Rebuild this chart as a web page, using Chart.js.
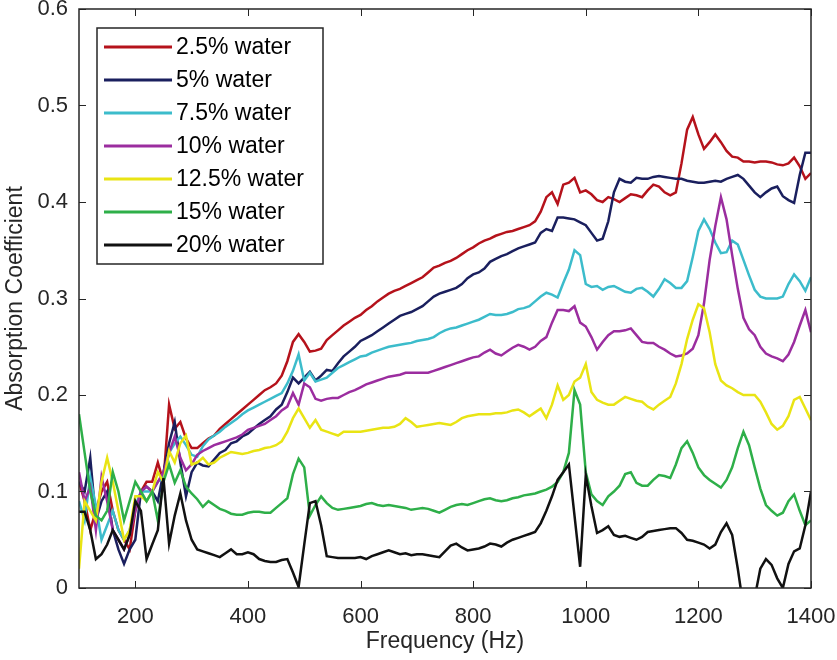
<!DOCTYPE html>
<html>
<head>
<meta charset="utf-8">
<title>Absorption Coefficient vs Frequency</title>
<script src="https://cdn.jsdelivr.net/npm/chart.js@4.4.1/dist/chart.umd.min.js"></script>
<style>
  html, body { margin: 0; padding: 0; background: #fff; }
  #wrap { width: 837px; height: 660px; }
</style>
</head>
<body>
<div id="wrap"><canvas id="absorptionChart"></canvas></div>
<script>
// ---- data (10 Hz grid) ----
const freqs = [
  100, 110, 120, 130, 140, 150, 160, 170, 180, 190,
  200, 210, 220, 230, 240, 250, 260, 270, 280, 290,
  300, 310, 320, 330, 340, 350, 360, 370, 380, 390,
  400, 410, 420, 430, 440, 450, 460, 470, 480, 490,
  500, 510, 520, 530, 540, 550, 560, 570, 580, 590,
  600, 610, 620, 630, 640, 650, 660, 670, 680, 690,
  700, 710, 720, 730, 740, 750, 760, 770, 780, 790,
  800, 810, 820, 830, 840, 850, 860, 870, 880, 890,
  900, 910, 920, 930, 940, 950, 960, 970, 980, 990,
  1000, 1010, 1020, 1030, 1040, 1050, 1060, 1070, 1080, 1090,
  1100, 1110, 1120, 1130, 1140, 1150, 1160, 1170, 1180, 1190,
  1200, 1210, 1220, 1230, 1240, 1250, 1260, 1270, 1280, 1290,
  1300, 1310, 1320, 1330, 1340, 1350, 1360, 1370, 1380, 1390,
  1400
];

const xTickValues = [200, 400, 600, 800, 1000, 1200, 1400];
const yTickValues = [0, 0.1, 0.2, 0.3, 0.4, 0.5, 0.6];

const seriesLabels = ['2.5% water', '5% water', '7.5% water', '10% water', '12.5% water', '15% water', '20% water'];

const water2_5 = [
  0.11, 0.09, 0.06, 0.08, 0.10, 0.11, 0.08, 0.06, 0.05, 0.04,
  0.08, 0.10, 0.11, 0.11, 0.13, 0.11, 0.19, 0.165, 0.172, 0.155,
  0.145, 0.145, 0.15, 0.155, 0.158, 0.165, 0.17, 0.175, 0.18, 0.185,
  0.19, 0.195, 0.20, 0.205, 0.208, 0.212, 0.22, 0.235, 0.255, 0.263,
  0.255, 0.245, 0.246, 0.248, 0.257, 0.262, 0.267, 0.272, 0.276, 0.28,
  0.283, 0.288, 0.292, 0.297, 0.301, 0.305, 0.308, 0.31, 0.313, 0.316,
  0.319, 0.322, 0.327, 0.332, 0.334, 0.337, 0.339, 0.342, 0.346, 0.35,
  0.353, 0.357, 0.36, 0.362, 0.365, 0.367, 0.369, 0.37, 0.372, 0.374,
  0.376, 0.38, 0.39, 0.405, 0.41, 0.398, 0.418, 0.42, 0.425, 0.41,
  0.412, 0.408, 0.402, 0.4, 0.405, 0.403, 0.4, 0.404, 0.408, 0.407,
  0.405, 0.412, 0.418, 0.416, 0.41, 0.407, 0.41, 0.44, 0.475, 0.488,
  0.47, 0.455, 0.462, 0.47, 0.462, 0.453, 0.447, 0.446, 0.442, 0.442,
  0.441, 0.442, 0.442, 0.441, 0.439, 0.438, 0.44, 0.446, 0.437, 0.424,
  0.43
];

const water5 = [
  0.11, 0.10, 0.135, 0.07, 0.09, 0.1, 0.06, 0.04, 0.025, 0.04,
  0.05, 0.1, 0.105, 0.1, 0.09, 0.12, 0.15, 0.172, 0.13, 0.095,
  0.12, 0.13, 0.127, 0.126, 0.133, 0.14, 0.143, 0.15, 0.152, 0.157,
  0.16, 0.165, 0.17, 0.174, 0.178, 0.185, 0.19, 0.203, 0.218, 0.212,
  0.218, 0.224, 0.215, 0.22, 0.226, 0.225, 0.233, 0.24, 0.245, 0.25,
  0.256, 0.259, 0.262, 0.266, 0.27, 0.274, 0.278, 0.282, 0.284, 0.286,
  0.289, 0.292, 0.297, 0.302, 0.305, 0.307, 0.309, 0.311, 0.315, 0.321,
  0.325, 0.327, 0.331, 0.338, 0.341, 0.344, 0.346, 0.349, 0.352, 0.354,
  0.356, 0.358, 0.368, 0.372, 0.37, 0.384, 0.384, 0.383, 0.382, 0.379,
  0.376, 0.368, 0.36, 0.362, 0.38, 0.41, 0.424, 0.421, 0.42, 0.425,
  0.424, 0.424, 0.426, 0.427, 0.426, 0.425, 0.424, 0.424, 0.422, 0.421,
  0.42, 0.42, 0.421, 0.422, 0.421, 0.424, 0.426, 0.428, 0.424, 0.417,
  0.41, 0.405, 0.41, 0.414, 0.416, 0.406, 0.402, 0.399, 0.428, 0.451,
  0.451
];

const water7_5 = [
  0.09, 0.07, 0.115, 0.085, 0.05, 0.065, 0.08, 0.06, 0.05, 0.06,
  0.085, 0.1, 0.1, 0.1, 0.11, 0.115, 0.14, 0.15, 0.157, 0.148,
  0.138, 0.136, 0.147, 0.154, 0.158, 0.162, 0.167, 0.171, 0.175, 0.18,
  0.184, 0.187, 0.19, 0.193, 0.196, 0.199, 0.202, 0.212, 0.225, 0.242,
  0.215, 0.223, 0.214, 0.216, 0.218, 0.223, 0.228, 0.231, 0.234, 0.237,
  0.24, 0.241, 0.244, 0.246, 0.248, 0.25, 0.251, 0.252, 0.253, 0.254,
  0.256, 0.257, 0.258, 0.26, 0.264, 0.267, 0.269, 0.27, 0.272, 0.274,
  0.276, 0.278, 0.281, 0.284, 0.283, 0.283, 0.284, 0.286, 0.289, 0.29,
  0.292, 0.297, 0.302, 0.306, 0.304, 0.301, 0.316, 0.33, 0.35, 0.345,
  0.315, 0.312, 0.313, 0.309, 0.312, 0.313, 0.31, 0.307, 0.306, 0.31,
  0.311, 0.307, 0.302, 0.31, 0.32, 0.316, 0.311, 0.311, 0.318, 0.343,
  0.37, 0.382, 0.372, 0.358, 0.347, 0.348, 0.36, 0.356, 0.34, 0.324,
  0.309, 0.302, 0.3, 0.3, 0.3, 0.302, 0.315, 0.325, 0.318, 0.308,
  0.322
];

const water10 = [
  0.12, 0.09, 0.105, 0.06, 0.115, 0.09, 0.06, 0.05, 0.04, 0.055,
  0.08, 0.1, 0.105, 0.1, 0.11, 0.12, 0.14, 0.157, 0.135, 0.122,
  0.128, 0.138, 0.142, 0.145, 0.148, 0.15, 0.152, 0.154, 0.156, 0.159,
  0.164, 0.166, 0.168, 0.17, 0.174, 0.178, 0.184, 0.188, 0.202, 0.19,
  0.212, 0.208, 0.196, 0.194, 0.196, 0.197, 0.197, 0.2, 0.203, 0.205,
  0.208, 0.211, 0.213, 0.215, 0.217, 0.219, 0.22, 0.221, 0.223, 0.223,
  0.223, 0.223, 0.223, 0.225, 0.227, 0.229, 0.231, 0.233, 0.235, 0.237,
  0.239, 0.24, 0.244, 0.247, 0.243, 0.241, 0.245, 0.249, 0.252, 0.25,
  0.247, 0.25, 0.256, 0.26, 0.275, 0.288, 0.288, 0.287, 0.292, 0.275,
  0.271, 0.26, 0.247, 0.255, 0.262, 0.266, 0.266, 0.267, 0.269, 0.262,
  0.255, 0.254, 0.254, 0.25, 0.247, 0.243, 0.24, 0.241, 0.243, 0.248,
  0.262, 0.295, 0.34, 0.375, 0.405, 0.382, 0.345, 0.31, 0.28, 0.268,
  0.262, 0.25, 0.243, 0.24, 0.238, 0.235, 0.242, 0.255, 0.272, 0.288,
  0.265
];

const water12_5 = [
  0.02, 0.09, 0.08, 0.07, 0.11, 0.135, 0.11, 0.08, 0.05, 0.06,
  0.095, 0.095, 0.09, 0.1, 0.12, 0.11, 0.142, 0.13, 0.15, 0.158,
  0.128, 0.13, 0.135, 0.128, 0.13, 0.135, 0.138, 0.141, 0.14, 0.139,
  0.14, 0.142, 0.143, 0.145, 0.146, 0.148, 0.152, 0.162, 0.176, 0.186,
  0.176, 0.166, 0.174, 0.164, 0.162, 0.16, 0.158, 0.162, 0.162, 0.162,
  0.162, 0.163, 0.164, 0.165, 0.166, 0.166, 0.167, 0.17, 0.176, 0.172,
  0.167, 0.168, 0.169, 0.17, 0.171, 0.17, 0.169, 0.172, 0.176, 0.178,
  0.179, 0.18, 0.18, 0.18, 0.181, 0.181, 0.182, 0.184, 0.185, 0.182,
  0.178, 0.182, 0.186, 0.176, 0.19, 0.21, 0.195, 0.2, 0.214, 0.218,
  0.232, 0.203, 0.195, 0.192, 0.19, 0.19, 0.194, 0.198, 0.196, 0.194,
  0.193, 0.188, 0.185, 0.19, 0.194, 0.198, 0.212, 0.232, 0.258, 0.278,
  0.294, 0.29, 0.265, 0.232, 0.215, 0.21, 0.207, 0.203, 0.2, 0.2,
  0.2, 0.193, 0.182, 0.17, 0.164, 0.168, 0.178, 0.195, 0.198, 0.186,
  0.174
];

const water15 = [
  0.18, 0.14, 0.1, 0.075, 0.07, 0.08, 0.12, 0.1, 0.07, 0.09,
  0.11, 0.1, 0.09, 0.1, 0.07, 0.11, 0.128, 0.109, 0.122, 0.105,
  0.098, 0.092, 0.084, 0.09, 0.086, 0.082, 0.08, 0.077, 0.076, 0.076,
  0.078, 0.079, 0.079, 0.078, 0.078, 0.083, 0.088, 0.093, 0.118, 0.134,
  0.125, 0.075, 0.086, 0.095, 0.088, 0.083, 0.081, 0.082, 0.083, 0.084,
  0.085, 0.087, 0.088, 0.086, 0.085, 0.086, 0.085, 0.084, 0.083, 0.081,
  0.082, 0.083, 0.082, 0.08, 0.078, 0.081, 0.084, 0.086, 0.087, 0.086,
  0.088, 0.09, 0.092, 0.093, 0.091, 0.09, 0.091, 0.093, 0.094, 0.096,
  0.097, 0.098, 0.1, 0.102, 0.105, 0.11, 0.12, 0.14, 0.205, 0.19,
  0.12, 0.097, 0.09, 0.086, 0.095, 0.1, 0.106, 0.118, 0.12, 0.109,
  0.106, 0.106, 0.112, 0.117, 0.116, 0.114, 0.128, 0.145, 0.152, 0.14,
  0.125, 0.117, 0.112, 0.108, 0.104, 0.112, 0.125, 0.145, 0.162, 0.148,
  0.125, 0.103, 0.086, 0.08, 0.075, 0.078, 0.09, 0.097, 0.08, 0.065,
  0.07
];

const water20 = [
  0.079, 0.079, 0.06, 0.03, 0.035, 0.045, 0.06, 0.05, 0.04, 0.055,
  0.09, 0.08, 0.03, 0.045, 0.06, 0.114, 0.046, 0.075, 0.098, 0.07,
  0.05, 0.04, 0.038, 0.036, 0.034, 0.032, 0.036, 0.04, 0.035, 0.035,
  0.037, 0.035, 0.03, 0.028, 0.027, 0.027, 0.029, 0.03, 0.016, 0.001,
  0.045, 0.088, 0.09, 0.065, 0.033, 0.032, 0.031, 0.031, 0.031, 0.031,
  0.032, 0.03, 0.033, 0.035, 0.037, 0.039, 0.037, 0.035, 0.036, 0.034,
  0.035, 0.035, 0.034, 0.033, 0.032, 0.038, 0.044, 0.046, 0.042, 0.039,
  0.04, 0.041, 0.043, 0.046, 0.045, 0.043, 0.047, 0.05, 0.052, 0.054,
  0.056, 0.058, 0.067, 0.08, 0.095, 0.112, 0.12, 0.128, 0.075, 0.022,
  0.117, 0.085, 0.057, 0.06, 0.064, 0.055, 0.053, 0.054, 0.052, 0.05,
  0.053, 0.058, 0.059, 0.06, 0.061, 0.062, 0.062, 0.057, 0.05, 0.049,
  0.047, 0.045, 0.041, 0.045, 0.058, 0.067, 0.055, 0.02, -0.02, -0.02,
  -0.01, 0.02, 0.03, 0.024, 0.01, 0.0, 0.025, 0.038, 0.041, 0.065,
  0.1
];

const seriesValues = [water2_5, water5, water7_5, water10, water12_5, water15, water20];
const seriesColors = ['#B5121B', '#1A1F5E', '#3CBCCB', '#9B2D9F', '#E9E414', '#2EAF49', '#111111'];

const FONT = "'Liberation Sans', Arial, Helvetica, sans-serif";
const INK = '#262626';

// MATLAB-style box with inward tick marks on all four sides
const boxTicks = {
  id: 'boxTicks',
  afterDatasetsDraw(chart) {
    const { ctx, chartArea: a, scales: { x, y } } = chart;
    const len = 7;
    ctx.save();
    ctx.strokeStyle = INK;
    ctx.lineWidth = 1;
    ctx.beginPath();
    x.ticks.forEach(t => {
      const px = Math.round(x.getPixelForValue(t.value)) + 0.5;
      ctx.moveTo(px, a.bottom); ctx.lineTo(px, a.bottom - len);
      ctx.moveTo(px, a.top); ctx.lineTo(px, a.top + len);
    });
    y.ticks.forEach(t => {
      const py = Math.round(y.getPixelForValue(t.value)) + 0.5;
      ctx.moveTo(a.left, py); ctx.lineTo(a.left + len, py);
      ctx.moveTo(a.right, py); ctx.lineTo(a.right - len, py);
    });
    ctx.stroke();
    ctx.lineWidth = 1.5;
    ctx.strokeRect(a.left, a.top, a.right - a.left, a.bottom - a.top);
    ctx.restore();
  }
};

// legend box drawn inside the axes, top left
const boxLegend = {
  id: 'boxLegend',
  afterDraw(chart) {
    const { ctx, chartArea: a } = chart;
    const left = a.left + 18, top = a.top + 19, w = 226, h = 236;
    const rowH = 33;
    ctx.save();
    ctx.fillStyle = '#fff';
    ctx.fillRect(left, top, w, h);
    ctx.strokeStyle = INK;
    ctx.lineWidth = 1.5;
    ctx.strokeRect(left, top, w, h);
    ctx.font = '23px ' + FONT;
    ctx.textBaseline = 'middle';
    ctx.textAlign = 'left';
    chart.data.datasets.forEach((ds, i) => {
      const cy = top + 19 + i * rowH;
      ctx.strokeStyle = ds.borderColor;
      ctx.lineWidth = 3;
      ctx.beginPath();
      ctx.moveTo(left + 7, cy);
      ctx.lineTo(left + 75, cy);
      ctx.stroke();
      ctx.fillStyle = '#000';
      ctx.fillText(ds.label, left + 79, cy + 1);
    });
    ctx.restore();
  }
};

const datasets = seriesLabels.map((label, i) => ({
  label: label,
  data: freqs.map((f, j) => ({ x: f, y: seriesValues[i][j] })),
  borderColor: seriesColors[i],
  backgroundColor: seriesColors[i],
  borderWidth: 2.5,
  pointRadius: 0,
  tension: 0,
  order: seriesLabels.length - i
}));

new Chart(document.getElementById('absorptionChart').getContext('2d'), {
  type: 'line',
  data: { datasets: datasets },
  options: {
    responsive: true,
    maintainAspectRatio: false,
    animation: false,
    devicePixelRatio: 1,
    layout: { padding: { top: 9, right: 26, bottom: 0, left: 0 } },
    plugins: {
      legend: { display: false },
      tooltip: { enabled: false }
    },
    scales: {
      x: {
        type: 'linear',
        min: 100,
        max: 1400,
        afterBuildTicks: axis => { axis.ticks = xTickValues.map(v => ({ value: v })); },
        afterFit: axis => {
          axis.height = 72;
          axis.paddingLeft = 0; axis.paddingRight = 0;
        },
        grid: { display: false, drawTicks: false },
        border: { display: false },
        ticks: {
          color: INK,
          padding: 16,
          maxRotation: 0,
          font: { family: FONT, size: 22 },
          callback: v => String(v)
        },
        title: {
          display: true,
          text: 'Frequency (Hz)',
          color: INK,
          font: { family: FONT, size: 23 },
          padding: { top: 0, bottom: 5 }
        }
      },
      y: {
        min: 0,
        max: 0.6,
        afterBuildTicks: axis => { axis.ticks = yTickValues.map(v => ({ value: v })); },
        afterFit: axis => {
          axis.width = 79;
          axis.paddingTop = 0; axis.paddingBottom = 0;
        },
        grid: { display: false, drawTicks: false },
        border: { display: false },
        ticks: {
          color: INK,
          padding: 11,
          font: { family: FONT, size: 22 },
          callback: v => String(v)
        },
        title: {
          display: true,
          text: 'Absorption Coefficient',
          color: INK,
          font: { family: FONT, size: 23 },
          padding: { top: 2, bottom: 0 }
        }
      }
    }
  },
  plugins: [boxTicks, boxLegend]
});
</script>
</body>
</html>
